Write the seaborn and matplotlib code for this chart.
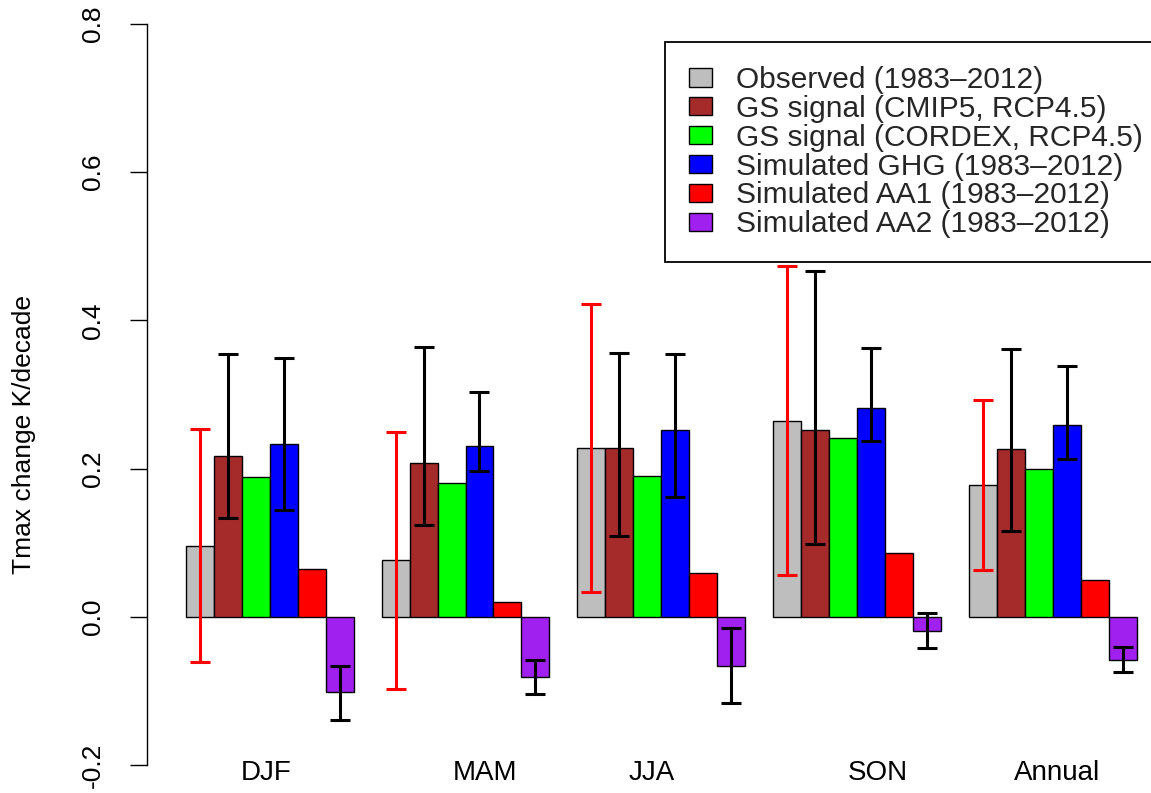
import numpy as np
import pandas as pd
import matplotlib
matplotlib.use("Agg")
import matplotlib.pyplot as plt
import matplotlib.transforms as mtransforms
from matplotlib.patches import Patch
import seaborn as sns

# ---------------- data ----------------
seasons = ["DJF", "MAM", "JJA", "SON", "Annual"]
series_names = ["Observed (1983\u20132012)", "GS signal (CMIP5, RCP4.5)",
                "GS signal (CORDEX, RCP4.5)", "Simulated GHG (1983\u20132012)",
                "Simulated AA1 (1983\u20132012)", "Simulated AA2 (1983\u20132012)"]

observed = [0.095, 0.076, 0.228, 0.264, 0.178]
observed_lo = [-0.061, -0.098, 0.033, 0.056, 0.063]
observed_hi = [0.254, 0.250, 0.422, 0.473, 0.292]

cmip5 = [0.217, 0.208, 0.228, 0.252, 0.226]
cmip5_lo = [0.134, 0.124, 0.109, 0.098, 0.116]
cmip5_hi = [0.355, 0.364, 0.356, 0.466, 0.361]

cordex = [0.189, 0.181, 0.190, 0.241, 0.200]

ghg = [0.233, 0.231, 0.252, 0.282, 0.259]
ghg_lo = [0.144, 0.197, 0.161, 0.237, 0.213]
ghg_hi = [0.349, 0.303, 0.354, 0.363, 0.338]

aa1 = [0.065, 0.020, 0.059, 0.086, 0.050]

aa2 = [-0.102, -0.081, -0.066, -0.019, -0.058]
aa2_lo = [-0.139, -0.104, -0.116, -0.042, -0.075]
aa2_hi = [-0.067, -0.058, -0.015, 0.005, -0.041]

colors = ["#BEBEBE", "#A52A2A", "#00FF00", "#0000FF", "#FF0000", "#A020F0"]

yticks = [-0.2, 0.0, 0.2, 0.4, 0.6, 0.8]
ytick_labels = ["-0.2", "0.0", "0.2", "0.4", "0.6", "0.8"]
ylabel = "Tmax change K/decade"

# label x offsets relative to group centre (layout only)
label_offsets = [-0.02, 0.10, -0.05, 0.105, 0.02]

# ---------------- build frame ----------------
all_values = [observed, cmip5, cordex, ghg, aa1, aa2]
rows = []
for name, vals in zip(series_names, all_values):
    for s, v in zip(seasons, vals):
        rows.append({"season": s, "series": name, "value": v})
df = pd.DataFrame(rows)

sns.set_theme(style="white")
plt.rcParams['font.family'] = ['Liberation Sans', 'DejaVu Sans']

W, H = 1151, 793
fig = plt.figure(figsize=(W / 100, H / 100), dpi=100)
ax = fig.add_axes([147 / W, 28 / H, 1004 / W, 741 / H])

sns.barplot(data=df, x="season", y="value", hue="series", order=seasons,
            hue_order=series_names, palette=dict(zip(series_names, colors)),
            width=6 / 7, gap=0, saturation=1, edgecolor="black", linewidth=1.0,
            errorbar=None, legend=False, ax=ax)

# error bars
err_specs = [(0, observed_lo, observed_hi, "#FF0000"),
             (1, cmip5_lo, cmip5_hi, "black"),
             (3, ghg_lo, ghg_hi, "black"),
             (5, aa2_lo, aa2_hi, "black")]
for idx, lo, hi, col in err_specs:
    cont = ax.containers[idx]
    xs = [p.get_x() + p.get_width() / 2 for p in cont]
    lo = np.array(lo); hi = np.array(hi)
    mid = (lo + hi) / 2
    half = (hi - lo) / 2
    ax.errorbar(xs, mid, yerr=half, fmt="none", ecolor=col, elinewidth=2.2,
                capsize=7.2, capthick=2.2, zorder=5)

ax.set_xlim((147 - 269.7) / 195.8, (1151 - 269.7) / 195.8)
ax.set_ylim(-0.2, 0.8)
for sp in ["top", "right", "bottom"]:
    ax.spines[sp].set_visible(False)
ax.spines["left"].set_color("black")
ax.spines["left"].set_linewidth(1.0)

ax.set_yticks(yticks)
ax.set_yticklabels(ytick_labels, rotation=90, va="center", ha="right", fontsize=19)
ax.tick_params(axis="y", length=12, width=1, direction="out", pad=18,
               colors="black", left=True)
ax.set_xticks([])
ax.set_xlabel("")
ax.set_ylabel(ylabel, fontsize=19, va="center", color="black")
ax.yaxis.set_label_coords((24 - 147) / 1004, (765 - 434) / 741)

trans = mtransforms.blended_transform_factory(ax.transData, ax.transAxes)
for i, (s, off) in enumerate(zip(seasons, label_offsets)):
    ax.text(i + off, -7.5 / 741, s, transform=trans, ha="center", va="center",
            fontsize=20, color="black", clip_on=False)

handles = [Patch(facecolor=c, edgecolor="black", linewidth=1.0) for c in colors]
fs = 21.5
fpx = fs * 100 / 72
leg = ax.legend(handles, series_names, loc="upper left",
                bbox_to_anchor=(665 / W, 1 - 42 / H), bbox_transform=fig.transFigure,
                borderaxespad=0, frameon=True, fancybox=False, framealpha=1,
                edgecolor="black", fontsize=fs,
                handlelength=23 / fpx, handleheight=17 / fpx,
                handletextpad=24 / fpx, borderpad=0.8, labelspacing=0.03)
leg.get_frame().set_linewidth(1.3)
leg.set_zorder(4)

fig.savefig("out.png", dpi=100)
